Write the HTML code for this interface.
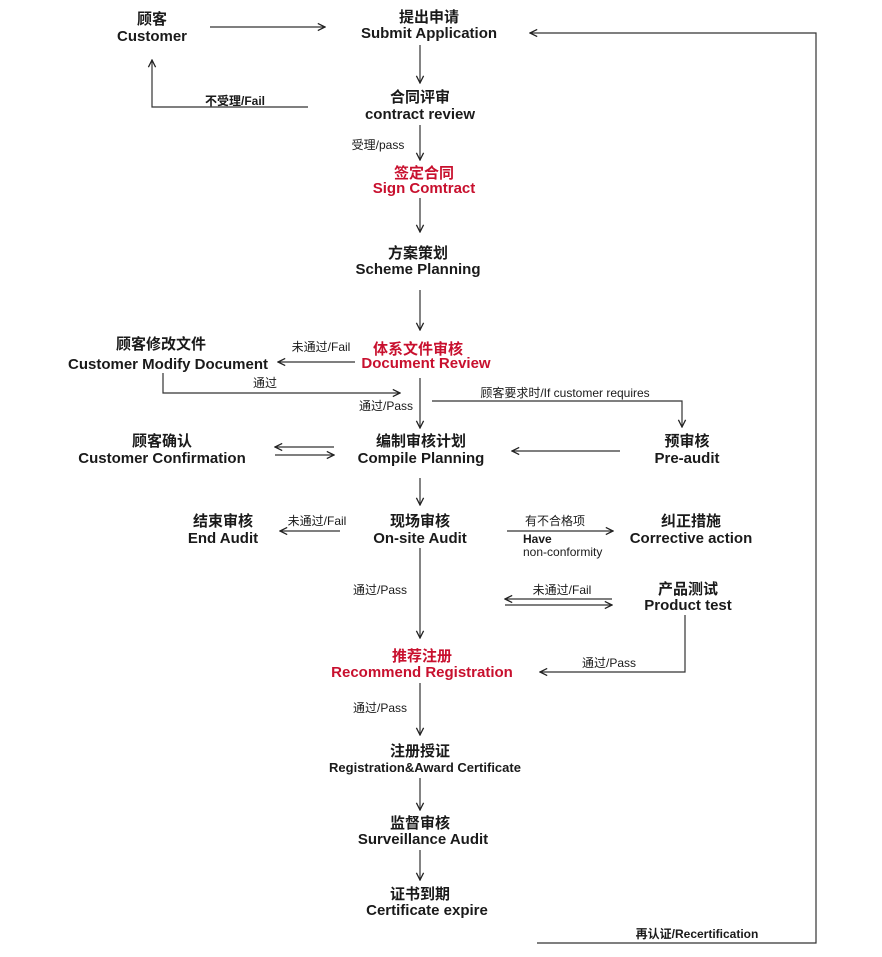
<!DOCTYPE html>
<html><head><meta charset="utf-8"><style>
html,body{margin:0;padding:0;background:#fff}
svg{display:block}
text{font-family:"Liberation Sans","Noto Sans CJK SC",sans-serif;fill:#1a1a1a}
.t{font-size:15px;font-weight:bold;text-anchor:middle}
.r{fill:#c8102e}
.l{font-size:12px;text-anchor:middle}
.s{font-size:13px;font-weight:bold;text-anchor:middle}
line,polyline{stroke:#333;stroke-width:1.2;fill:none}
</style></head><body>
<svg width="882" height="957" viewBox="0 0 882 957" xmlns="http://www.w3.org/2000/svg">
<defs><marker id="a" viewBox="0 0 10 10" refX="9" refY="5" markerWidth="9" markerHeight="9" orient="auto" markerUnits="userSpaceOnUse"><polyline points="1,1 9,5 1,9" style="stroke:#222;stroke-width:1.4;fill:none"/></marker></defs>

<text class="t" x="152" y="24">顾客</text><text class="t" x="152" y="41">Customer</text>
<text class="t" x="429" y="22">提出申请</text><text class="t" x="429" y="38">Submit Application</text>
<line x1="210" y1="27" x2="325" y2="27" marker-end="url(#a)"/>
<line x1="420" y1="45" x2="420" y2="83" marker-end="url(#a)"/>
<text class="t" x="420" y="102">合同评审</text><text class="t" x="420" y="119">contract review</text>
<polyline points="308,107 152,107 152,60" marker-end="url(#a)"/>
<text class="l" x="235" y="105" style="font-weight:bold">不受理/Fail</text>
<line x1="420" y1="125" x2="420" y2="160" marker-end="url(#a)"/>
<text class="l" x="378" y="149">受理/pass</text>
<text class="t r" x="424" y="178">签定合同</text><text class="t r" x="424" y="193">Sign Comtract</text>
<line x1="420" y1="198" x2="420" y2="232" marker-end="url(#a)"/>
<text class="t" x="418" y="258">方案策划</text><text class="t" x="418" y="274">Scheme Planning</text>
<line x1="420" y1="290" x2="420" y2="330" marker-end="url(#a)"/>
<text class="t r" x="418" y="354">体系文件审核</text><text class="t r" x="426" y="368">Document Review</text>
<line x1="355" y1="362" x2="278" y2="362" marker-end="url(#a)"/>
<text class="l" x="321" y="351">未通过/Fail</text>
<text class="t" x="161" y="349">顾客修改文件</text><text class="t" x="168" y="369">Customer Modify Document</text>
<polyline points="163,373 163,393 400,393" marker-end="url(#a)"/>
<text class="l" x="265" y="387">通过</text>
<line x1="420" y1="378" x2="420" y2="428" marker-end="url(#a)"/>
<text class="l" x="386" y="410">通过/Pass</text>
<polyline points="432,401 682,401 682,427" marker-end="url(#a)"/>
<text class="l" x="565" y="397">顾客要求时/If customer requires</text>
<text class="t" x="421" y="446">编制审核计划</text><text class="t" x="421" y="463">Compile Planning</text>
<text class="t" x="162" y="446">顾客确认</text><text class="t" x="162" y="463">Customer Confirmation</text>
<line x1="334" y1="447" x2="275" y2="447" marker-end="url(#a)"/>
<line x1="275" y1="455" x2="334" y2="455" marker-end="url(#a)"/>
<text class="t" x="687" y="446">预审核</text><text class="t" x="687" y="463">Pre-audit</text>
<line x1="620" y1="451" x2="512" y2="451" marker-end="url(#a)"/>
<line x1="420" y1="478" x2="420" y2="505" marker-end="url(#a)"/>
<text class="t" x="420" y="526">现场审核</text><text class="t" x="420" y="543">On-site Audit</text>
<text class="t" x="223" y="526">结束审核</text><text class="t" x="223" y="543">End Audit</text>
<line x1="340" y1="531" x2="280" y2="531" marker-end="url(#a)"/>
<text class="l" x="317" y="525">未通过/Fail</text>
<line x1="507" y1="531" x2="613" y2="531" marker-end="url(#a)"/>
<text class="l" x="555" y="525">有不合格项</text>
<text x="523" y="543" style="font-size:12px;font-weight:bold">Have</text>
<text x="523" y="556" style="font-size:12px">non-conformity</text>
<text class="t" x="691" y="526">纠正措施</text><text class="t" x="691" y="543">Corrective action</text>
<line x1="420" y1="548" x2="420" y2="638" marker-end="url(#a)"/>
<text class="l" x="380" y="594">通过/Pass</text>
<line x1="612" y1="599" x2="505" y2="599" marker-end="url(#a)"/>
<line x1="505" y1="605" x2="612" y2="605" marker-end="url(#a)"/>
<text class="l" x="562" y="594">未通过/Fail</text>
<text class="t" x="688" y="594">产品测试</text><text class="t" x="688" y="610">Product test</text>
<polyline points="685,615 685,672 540,672" marker-end="url(#a)"/>
<text class="l" x="609" y="667">通过/Pass</text>
<text class="t r" x="422" y="661">推荐注册</text><text class="t r" x="422" y="677">Recommend Registration</text>
<line x1="420" y1="683" x2="420" y2="735" marker-end="url(#a)"/>
<text class="l" x="380" y="712">通过/Pass</text>
<text class="t" x="420" y="756">注册授证</text><text class="s" x="425" y="772">Registration&amp;Award Certificate</text>
<line x1="420" y1="778" x2="420" y2="810" marker-end="url(#a)"/>
<text class="t" x="420" y="828">监督审核</text><text class="t" x="423" y="844">Surveillance Audit</text>
<line x1="420" y1="850" x2="420" y2="880" marker-end="url(#a)"/>
<text class="t" x="420" y="899">证书到期</text><text class="t" x="427" y="915">Certificate expire</text>
<polyline points="537,943 816,943 816,33 530,33" marker-end="url(#a)"/>
<text class="l" x="697" y="938" style="font-weight:bold">再认证/Recertification</text>
</svg>
</body></html>
